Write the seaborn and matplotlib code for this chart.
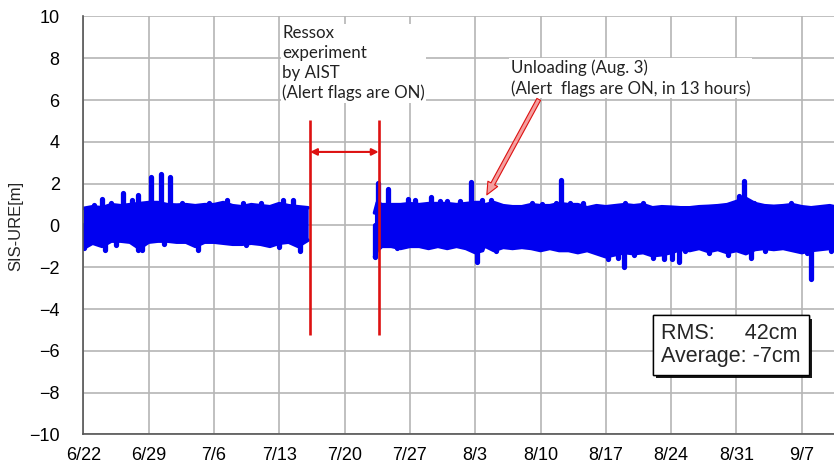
import matplotlib
matplotlib.use("Agg")
import matplotlib.pyplot as plt
import matplotlib.patheffects as pe
import pandas as pd
import seaborn as sns

# days counted from 6/22; envelope of SIS-URE [m]
seg1_day = [0, 1, 2, 3, 4, 5, 6, 7, 8, 9, 10, 11, 12, 13, 14, 15, 16, 17, 18, 19, 20, 21, 22, 23, 24.1]
seg1_hi = [0.82, 0.9, 0.85, 1.0, 0.95, 1.0, 1.05, 1.1, 1.1, 1.0, 0.98, 1.0, 0.95, 1.0, 1.0, 1.1, 0.95, 0.9,
           1.0, 0.95, 0.9, 1.05, 0.95, 0.9, 0.85]
seg1_lo = [-1.1, -0.85, -1.0, -0.75, -0.75, -0.8, -1.1, -0.8, -0.75, -0.75, -0.8, -0.8, -1.0, -0.8, -0.8,
           -0.85, -0.9, -0.9, -0.85, -0.9, -1.0, -0.85, -0.8, -1.0, -0.7]

seg2_day = [31.2, 31.5, 32, 33, 34, 35, 36, 37, 38, 39, 40, 41, 42, 42.8, 42.95, 43.1, 44, 45, 46, 47, 48,
            49, 50, 51, 52, 53, 54, 55, 56, 57, 58, 59, 60, 61, 62, 63, 64, 65, 66, 67, 68, 69, 70, 71, 72,
            73, 74, 75, 76, 77, 78, 79, 80, 80.5]
seg2_hi = [0.6, 1.1, 1.0, 1.0, 1.0, 1.05, 1.0, 1.05, 1.05, 1.05, 1.0, 1.05, 1.1, 1.1, 0.0, 1.0, 1.1, 0.95,
           0.9, 0.9, 1.0, 0.95, 0.95, 1.05, 1.0, 1.0, 0.85, 0.95, 0.9, 0.95, 1.0, 0.95, 1.0, 0.85, 0.9, 0.88,
           0.85, 0.85, 0.9, 0.92, 0.95, 1.0, 1.15, 1.3, 1.05, 0.95, 0.92, 0.95, 1.0, 0.9, 0.85, 0.9, 0.95, 0.9]
seg2_lo = [-1.5, -1.2, -1.0, -1.0, -1.1, -1.0, -1.0, -1.1, -1.0, -1.1, -1.0, -1.1, -1.3, -1.2, -1.0, -1.0,
           -1.2, -1.05, -1.1, -1.05, -1.1, -1.2, -1.1, -1.2, -1.2, -1.3, -1.2, -1.35, -1.5, -1.4, -1.3, -1.35,
           -1.3, -1.45, -1.4, -1.3, -1.15, -1.2, -1.1, -1.25, -1.15, -1.3, -1.2, -1.35, -1.15, -1.1, -1.15,
           -1.1, -1.2, -1.3, -1.2, -1.15, -1.1, -1.0]

# narrow peaks and dips sticking out of the band
spike_day = [1.1, 2.0, 3.0, 4.2, 5.2, 5.9, 7.2, 8.3, 9.3, 10.6, 13.5, 15.4, 17.1, 19.0, 21.4, 22.5,
             31.6, 32.6, 34.8, 35.5, 37.3, 38.2, 39.0, 40.4, 41.6, 42.7, 43.7, 48.1, 49.2, 50.7, 51.2,
             52.2, 53.5, 58.0, 60.0, 70.3, 70.8, 71.9, 75.8]
spike_top = [1.0, 1.25, 1.06, 1.55, 1.22, 1.45, 2.3, 2.47, 2.33, 1.06, 1.06, 1.2, 1.1, 1.06, 1.22, 1.2,
             2.05, 1.73, 1.25, 1.2, 1.35, 1.15, 1.15, 1.15, 2.1, 1.22, 1.22, 1.1, 1.05, 1.06, 2.18,
             1.06, 1.1, 1.06, 1.06, 1.4, 2.15, 1.06, 1.06]
dip_day = [0.1, 2.3, 3.5, 5.9, 6.3, 8.6, 12.3, 17.4, 21.0, 23.2, 31.25, 33.6, 42.2, 44.2, 56.2, 57.3, 57.9,
           59.0, 61.0, 62.2, 63.1, 63.8, 64.5, 67.1, 69.1, 71.6, 73.1, 77.6, 78.0, 80.1]
dip_bottom = [-1.1, -1.17, -0.95, -1.18, -1.17, -0.9, -1.15, -0.93, -1.04, -1.2, -1.5, -1.1, -1.73, -1.24,
              -1.6, -1.55, -2.0, -1.4, -1.55, -1.6, -1.6, -1.73, -1.2, -1.3, -1.4, -1.55, -1.2, -1.3, -2.55,
              -1.2]

tick_days = [0, 7, 14, 21, 28, 35, 42, 49, 56, 63, 70, 77]
tick_labels = ["6/22", "6/29", "7/6", "7/13", "7/20", "7/27", "8/3", "8/10", "8/17", "8/24", "8/31", "9/7"]

ressox_start = 24.3
ressox_end = 31.65

sns.set_style("whitegrid")
plt.rcParams['font.family'] = ['Liberation Sans', 'DejaVu Sans']

fig = plt.figure(figsize=(8.34, 4.66), dpi=100)
ax = fig.add_axes([0.0999, 0.0676, 0.9001, 0.897])

blue = "#0000f0"
for d, hi, lo in [(seg1_day, seg1_hi, seg1_lo), (seg2_day, seg2_hi, seg2_lo)]:
    ax.fill_between(d, lo, hi, color=blue, lw=0)
    df = pd.DataFrame({"day": d + d, "v": hi + lo, "edge": ["hi"] * len(d) + ["lo"] * len(d)})
    sns.lineplot(data=df, x="day", y="v", units="edge", estimator=None, color=blue, lw=2.5,
                 solid_capstyle="round", ax=ax)

ax.vlines(spike_day, 0, spike_top, color=blue, lw=3.8, capstyle="round")
ax.vlines(dip_day, 0, dip_bottom, color=blue, lw=3.8, capstyle="round")

# Ressox period
red = "#dd1111"
ax.vlines([ressox_start, ressox_end], -5.25, 5.05, color=red, lw=1.9)
ax.annotate("", xy=(ressox_start, 3.52), xytext=(ressox_end, 3.52),
            arrowprops=dict(arrowstyle="<|-|>", color=red, lw=1.5, mutation_scale=10, shrinkA=0, shrinkB=0))

txt_font = ['Lato', 'DejaVu Sans']
ax.text(21.3, 9.6, "Ressox\nexperiment\nby AIST\n(Alert flags are ON)", family=txt_font, fontsize=12.2,
        va="top", ha="left", linespacing=1.3, color="#222222",
        bbox=dict(fc="white", ec="none", pad=1))
ax.text(45.8, 7.95, "Unloading (Aug. 3)\n(Alert  flags are ON, in 13 hours)", family=txt_font, fontsize=12.2,
        va="top", ha="left", linespacing=1.3, color="#222222",
        bbox=dict(fc="white", ec="none", pad=1))
ax.annotate("", xy=(43.1, 1.35), xytext=(48.95, 6.15),
            arrowprops=dict(arrowstyle="simple,head_width=0.8,head_length=0.9,tail_width=0.3",
                            fc="#f4a0a0", ec=red, lw=0.8))

rms = ax.text(61.9, -5.72, "RMS:     42cm\nAverage: -7cm", family=['Liberation Sans', 'DejaVu Sans'],
              fontsize=15.5, va="center", ha="left", linespacing=1.1,
              bbox=dict(boxstyle="square,pad=0.38", fc="white", ec="black", lw=1))
rms.get_bbox_patch().set_path_effects([pe.withSimplePatchShadow(offset=(2.5, -2.5), shadow_rgbFace="black",
                                                                 alpha=0.9), pe.Normal()])

ax.set_xlim(0, 80.45)
ax.set_ylim(-10, 10)
ax.set_xticks(tick_days)
ax.set_xticklabels(tick_labels)
ax.set_yticks(range(-10, 11, 2))
ax.tick_params(axis="both", labelsize=13, colors="black", length=0)
ax.tick_params(axis="x", pad=9)
ax.tick_params(axis="y", pad=17)
ax.grid(True, color="#b5b5b5", lw=1.2)
ax.set_xlabel("")
ax.set_ylabel("SIS-URE[m]", fontsize=12, labelpad=4)
for s in ["top", "right"]:
    ax.spines[s].set_visible(False)
for s in ["left", "bottom"]:
    ax.spines[s].set_color("#555555")
    ax.spines[s].set_linewidth(1.2)

fig.savefig("out.png", dpi=100)
